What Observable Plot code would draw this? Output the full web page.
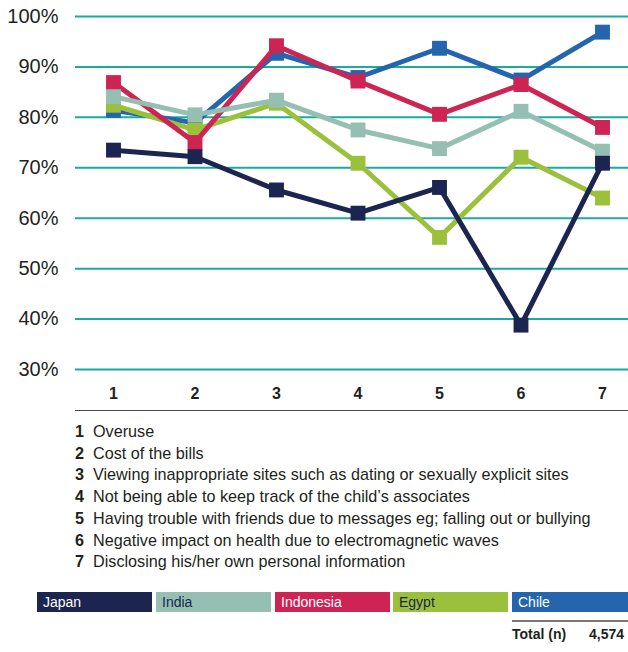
<!DOCTYPE html>
<html>
<head>
<meta charset="utf-8">
<script src="https://cdn.jsdelivr.net/npm/d3@7"></script>
<script src="https://cdn.jsdelivr.net/npm/@observablehq/plot@0.6"></script>
<style>
  html, body { margin: 0; padding: 0; background: #fff; }
  #wrap { position: relative; width: 628px; height: 652px; overflow: hidden; font-family: "Liberation Sans", Arial, sans-serif; color: #231f20; }
  #chart { position: absolute; left: 0; top: 0; }
  #notes { position: absolute; left: 75px; top: 410px; width: 553px; border-top: 1.5px solid #4a4a4a; padding-top: 10px; font-size: 16.2px; line-height: 21.7px; }
  #notes .row { white-space: nowrap; }
  #notes b { display: inline-block; width: 18px; font-weight: bold; }
  #legend { position: absolute; top: 592px; left: 0; width: 628px; height: 20px; }
  #legend div { position: absolute; top: 0; height: 20px; font-family: "Liberation Sans", Arial, sans-serif; font-size: 14px; line-height: 21px; padding-left: 6px; box-sizing: border-box; }
  #total { position: absolute; left: 512px; top: 620px; width: 116px; height: 26px; border-top: 2px solid #777; font-family: "Liberation Sans", Arial, sans-serif; font-weight: bold; font-size: 14px; line-height: 24px; }
  #total span.v { position: absolute; right: 4px; top: 0; }
</style>
</head>
<body>
<div id="wrap">
  <div id="chart"></div>
  <div id="notes"></div>
  <div id="legend"></div>
  <div id="total"><span class="l"></span><span class="v"></span></div>
</div>
<script>
const items = [1, 2, 3, 4, 5, 6, 7];
const japan     = [73.5, 72.2, 65.6, 61.0, 66.1, 38.8, 70.9];
const india     = [84.1, 80.5, 83.4, 77.5, 73.8, 81.2, 73.3];
const indonesia = [86.9, 75.0, 94.2, 87.2, 80.6, 86.5, 78.0];
const egypt     = [82.4, 77.5, 82.8, 70.9, 56.2, 72.1, 64.0];
const chile     = [81.4, 78.9, 92.7, 87.9, 93.7, 87.4, 96.9];
const countries = ["Japan", "India", "Indonesia", "Egypt", "Chile"];
const countryColors = ["#1b2550", "#95bfb3", "#cd2453", "#9bc13c", "#2465ad"];
const legendText = ["#ffffff", "#1b2550", "#ffffff", "#1b2550", "#ffffff"];
const yTicks = [30, 40, 50, 60, 70, 80, 90, 100];
const itemLabels = [
  "Overuse",
  "Cost of the bills",
  "Viewing inappropriate sites such as dating or sexually explicit sites",
  "Not being able to keep track of the child\u2019s associates",
  "Having trouble with friends due to messages eg; falling out or bullying",
  "Negative impact on health due to electromagnetic waves",
  "Disclosing his/her own personal information"
];
const totalLabel = "Total (n)";
const totalValue = "4,574";

const seriesValues = { Japan: japan, India: india, Indonesia: indonesia, Egypt: egypt, Chile: chile };
const colorOf = Object.fromEntries(countries.map((c, i) => [c, countryColors[i]]));
// drawing order (bottom to top)
const drawOrder = ["Chile", "Egypt", "Indonesia", "India", "Japan"];

const seriesMarks = drawOrder.flatMap(c => {
  const rows = items.map((it, i) => ({ item: it, value: seriesValues[c][i], country: c }));
  return [
    Plot.line(rows, { x: "item", y: "value", stroke: colorOf[c], strokeWidth: 5, strokeLinejoin: "miter" }),
    Plot.dot(rows, { x: "item", y: "value", symbol: "square", r: 8.4, fill: colorOf[c], stroke: "none" })
  ];
});

const chart = Plot.plot({
  width: 628,
  height: 408,
  marginLeft: 75,
  marginRight: 0,
  marginTop: 16,
  marginBottom: 39,
  style: { fontFamily: "'Liberation Sans', Arial, sans-serif", color: "#231f20", background: "#fff" },
  x: { domain: [1, 7], insetLeft: 38, insetRight: 26 },
  y: { domain: [30, 100] },
  marks: [
    Plot.ruleY(yTicks, { stroke: "#1aab9e", strokeWidth: 2 }),
    ...seriesMarks,
    Plot.axisY({ ticks: yTicks, tickFormat: d => d + "%", tickSize: 0, tickPadding: 17, fontSize: 20, label: null, fill: "#231f20" }),
    Plot.axisX({ ticks: items, tickFormat: d => String(d), tickSize: 0, tickPadding: 18, fontSize: 16, fontWeight: "bold", label: null, fill: "#231f20" })
  ]
});
document.getElementById("chart").appendChild(chart);

const notes = document.getElementById("notes");
items.forEach((it, i) => {
  const row = document.createElement("div");
  row.className = "row";
  row.innerHTML = `<b>${it}</b>${itemLabels[i]}`;
  notes.appendChild(row);
});

const legend = document.getElementById("legend");
const boxLefts = [37, 156, 275, 393, 512];
const boxWidths = [115, 115, 115, 115, 116];
countries.forEach((c, i) => {
  const d = document.createElement("div");
  d.textContent = c;
  d.style.left = boxLefts[i] + "px";
  d.style.width = boxWidths[i] + "px";
  d.style.background = countryColors[i];
  d.style.color = legendText[i];
  legend.appendChild(d);
});

document.querySelector("#total span.l").textContent = totalLabel;
document.querySelector("#total span.v").textContent = totalValue;
</script>
</body>
</html>
